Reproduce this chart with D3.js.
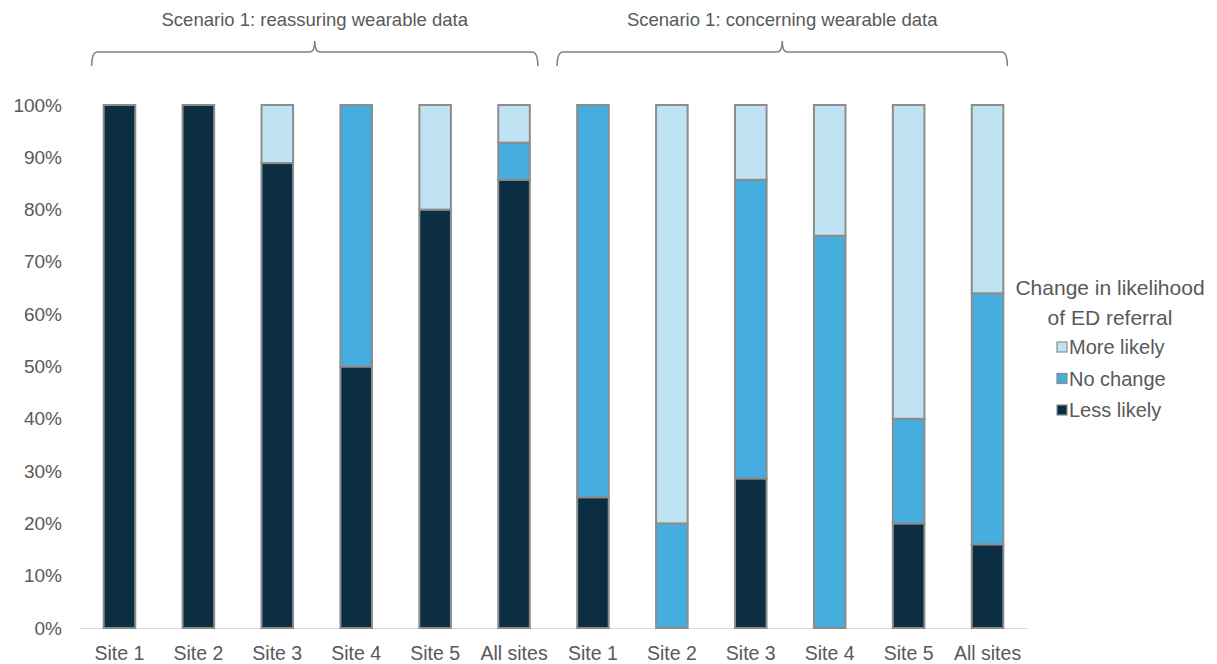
<!DOCTYPE html>
<html>
<head>
<meta charset="utf-8">
<script src="https://cdn.jsdelivr.net/npm/d3@7"></script>
<style>
  body { margin: 0; background: #fff; }
  text { font-family: "Liberation Sans", Arial, sans-serif; fill: #595959; }
</style>
</head>
<body>
<script>
/* Data */
var categories = ["Site 1", "Site 2", "Site 3", "Site 4", "Site 5", "All sites",
                  "Site 1", "Site 2", "Site 3", "Site 4", "Site 5", "All sites"];
var lessLikely = [100, 100, 88.9, 50, 80, 85.7, 25, 0, 28.6, 0, 20, 16];
var noChange   = [0, 0, 0, 50, 0, 7.1, 75, 20, 57.1, 75, 20, 48];
var moreLikely = [0, 0, 11.1, 0, 20, 7.2, 0, 80, 14.3, 25, 60, 36];
var seriesNames = ["Less likely", "No change", "More likely"];
var groups = [
  {label: "Scenario 1: reassuring wearable data", from: 0, to: 5},
  {label: "Scenario 1: concerning wearable data", from: 6, to: 11}
];
var yTicks = [0, 10, 20, 30, 40, 50, 60, 70, 80, 90, 100];

var colors = {"Less likely": "#0c2e42", "No change": "#45aede", "More likely": "#c0e3f4"};
// how far each brace reaches past its outer bars (left, right), in px
var bracePad = [[-12, 8], [-20, 4]];

var width = 1217, height = 664;

var svg = d3.select("body")
    .append("svg")
    .attr("width", width)
    .attr("height", height);

var x = d3.scaleBand()
    .domain(d3.range(categories.length))
    .range([80, 1027])
    .paddingInner(0.6)
    .paddingOuter(0.3);

var y = d3.scaleLinear()
    .domain([0, 100])
    .range([628, 105]);

/* stack */
var rows = categories.map(function(c, i) {
    return {"Less likely": lessLikely[i], "No change": noChange[i], "More likely": moreLikely[i]};
});
var stacked = d3.stack().keys(seriesNames)(rows);

// y axis labels
var yAxis = svg.append("g")
    .attr("transform", "translate(80,0)")
    .call(d3.axisLeft(y).tickValues(yTicks).tickFormat(function(d) { return d + "%"; }).tickSize(0).tickPadding(18));
yAxis.select(".domain").remove();
yAxis.selectAll("text")
    .style("font-size", "19px")
    .style("font-family", "'Liberation Sans', Arial, sans-serif")
    .attr("fill", "#595959");

// x axis
var xAxis = svg.append("g")
    .attr("transform", "translate(0,628)")
    .call(d3.axisBottom(x).tickFormat(function(i) { return categories[i]; }).tickSize(0).tickPadding(18));
xAxis.select(".domain").attr("stroke", "#d9d9d9").attr("stroke-width", 1.2);
xAxis.selectAll("text")
    .style("font-size", "19.5px")
    .style("font-family", "'Liberation Sans', Arial, sans-serif")
    .attr("fill", "#595959");

// bars
stacked.forEach(function(layer) {
    svg.append("g").selectAll("rect")
        .data(layer.filter(function(d) { return d[1] - d[0] > 0; }))
        .enter()
        .append("rect")
        .attr("x", function(d) { return x(layer.indexOf(d)); })
        .attr("y", function(d) { return y(d[1]); })
        .attr("width", x.bandwidth())
        .attr("height", function(d) { return y(d[0]) - y(d[1]); })
        .attr("fill", colors[layer.key])
        .attr("stroke", "#8c8c8c")
        .attr("stroke-width", 2);
});

// braces
var braceY = 52;
groups.forEach(function(g, gi) {
    var x0 = x(g.from) + bracePad[gi][0];
    var x1 = x(g.to) + x.bandwidth() + bracePad[gi][1];
    var xm = (x0 + x1) / 2;
    var p = d3.path();
    p.moveTo(x0, braceY + 14);
    p.quadraticCurveTo(x0, braceY, x0 + 6, braceY);
    p.lineTo(xm - 5, braceY);
    p.quadraticCurveTo(xm, braceY, xm, braceY - 11);
    p.quadraticCurveTo(xm, braceY, xm + 5, braceY);
    p.lineTo(x1 - 6, braceY);
    p.quadraticCurveTo(x1, braceY, x1, braceY + 14);
    svg.append("path")
        .attr("d", p.toString())
        .attr("fill", "none")
        .attr("stroke", "#7f7f7f")
        .attr("stroke-width", 1.5);
    svg.append("text")
        .attr("x", xm)
        .attr("y", 26)
        .attr("text-anchor", "middle")
        .style("font-size", "18.5px")
        .text(g.label);
});

// legend
var legend = svg.append("g").attr("transform", "translate(1110,0)");
legend.append("text").attr("y", 295).attr("text-anchor", "middle")
    .style("font-size", "21px").text("Change in likelihood");
legend.append("text").attr("y", 325).attr("text-anchor", "middle")
    .style("font-size", "21px").text("of ED referral");

var legendItems = seriesNames.slice().reverse();
var li = legend.selectAll(".li")
    .data(legendItems)
    .enter()
    .append("g")
    .attr("class", "li")
    .attr("transform", function(d, i) { return "translate(-53," + (347 + i * 31.5) + ")"; });
li.append("rect")
    .attr("x", 0).attr("y", -5)
    .attr("width", 10).attr("height", 10)
    .attr("fill", function(d) { return colors[d]; })
    .attr("stroke", "#8c8c8c")
    .attr("stroke-width", 1.2);
li.append("text")
    .attr("x", 12)
    .attr("y", 7)
    .style("font-size", "20px")
    .text(function(d) { return d; });
</script>
</body>
</html>
